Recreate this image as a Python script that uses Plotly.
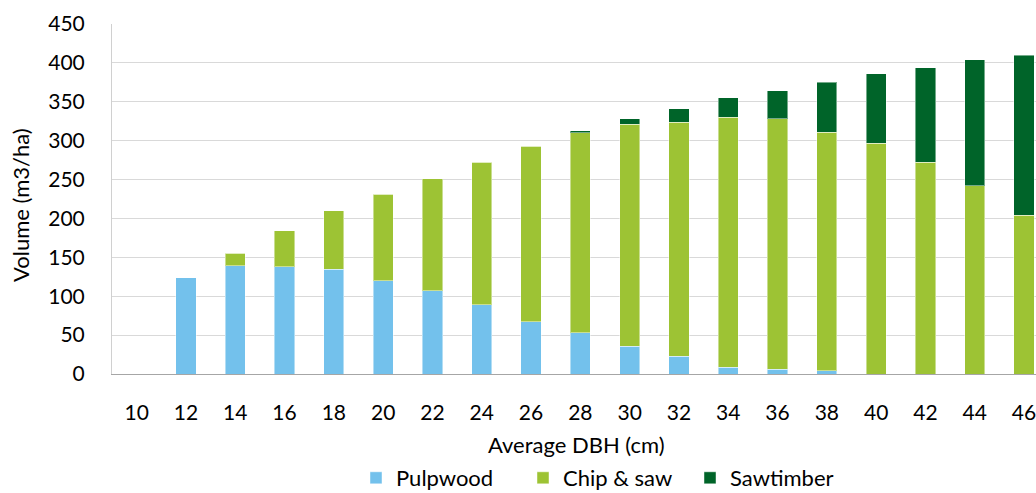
import plotly.graph_objects as go

# Average stand DBH classes (cm)
dbh = ["10", "12", "14", "16", "18", "20", "22", "24", "26", "28",
       "30", "32", "34", "36", "38", "40", "42", "44", "46"]

# Merchantable volume by product class (m3/ha)
pulpwood = [0, 124, 139, 138, 135, 120, 107, 89, 67, 53,
            36, 23, 9, 6, 4, 0, 0, 0, 0]
chip_saw = [0, 0, 16, 46, 75, 111, 144, 183, 226, 257,
            285, 301, 321, 322, 307, 297, 272, 242, 204]
sawtimber = [0, 0, 0, 0, 0, 0, 0, 0, 0, 3,
             7, 17, 25, 36, 64, 89, 122, 162, 206]

y_ticks = [0, 50, 100, 150, 200, 250, 300, 350, 400, 450]

FONT = "Lato, 'Open Sans', sans-serif"
W, H = 1036, 493
ML, MR, MT, MB = 112, 0, 24, 119

fig = go.Figure()
series = [
    ("Pulpwood", pulpwood, "#73C1EC"),
    ("Chip & saw", chip_saw, "#9DC334"),
    ("Sawtimber", sawtimber, "#006429"),
]
for name, vals, color in series:
    fig.add_trace(go.Bar(
        x=dbh, y=vals, name=name,
        marker=dict(color=color, line=dict(color="rgba(255,255,255,0.45)", width=1)),
    ))

plot_w = W - ML - MR
plot_h = H - MT - MB
base_y = MT + plot_h  # pixel row of the x axis


def paper_x(px):
    return (px - ML) / plot_w


def paper_y(py):
    return -(py - base_y) / plot_h


fig.update_layout(
    width=W, height=H,
    margin=dict(l=ML, r=MR, t=MT, b=MB, pad=0, autoexpand=False),
    barmode="stack",
    bargap=0.59,
    plot_bgcolor="white",
    paper_bgcolor="white",
    font=dict(family=FONT, size=20, color="#000000"),
    showlegend=True,
    legend=dict(
        orientation="h",
        xref="container", x=356 / W, xanchor="left",
        yref="container", y=1 - 478 / H, yanchor="middle",
        entrywidthmode="pixels", entrywidth=122,
        font=dict(family=FONT, size=22, color="#000000"),
        bgcolor="rgba(0,0,0,0)",
        traceorder="normal",
    ),
    xaxis=dict(
        type="category",
        range=[-0.5, -0.5 + plot_w / 49.3],
        showgrid=False,
        showline=True, linecolor="#A6A6A6", linewidth=1,
        ticks="", ticklabelstandoff=20,
        tickfont=dict(family=FONT, size=21, color="#000000"),
        fixedrange=True,
    ),
    yaxis=dict(
        range=[0, 450],
        tickvals=y_ticks,
        showgrid=True, gridcolor="#D9D9D9", gridwidth=1,
        showline=True, linecolor="#D0D0D0", linewidth=1,
        zeroline=False,
        ticks="", ticklabelstandoff=22,
        tickfont=dict(family=FONT, size=21, color="#000000"),
    ),
    annotations=[
        dict(text="Average DBH (cm)", xref="paper", yref="paper",
             x=paper_x(576), y=paper_y(444),
             xanchor="center", yanchor="middle", showarrow=False,
             font=dict(family=FONT, size=22, color="#000000")),
        dict(text="Volume (m3/ha)", xref="paper", yref="paper",
             x=paper_x(20), y=paper_y(205), textangle=-90,
             xanchor="center", yanchor="middle", showarrow=False,
             font=dict(family=FONT, size=22, color="#000000")),
    ],
)

fig.write_html("out.html")
